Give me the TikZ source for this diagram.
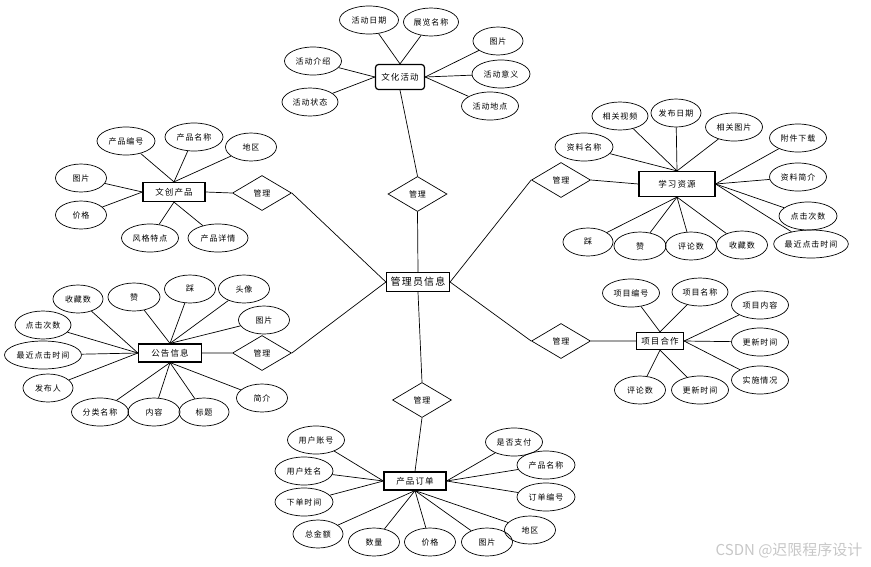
\documentclass[tikz,border=0pt]{standalone}
\usepackage{fontspec}
\setmainfont{Noto Sans CJK SC}[LetterSpace=12]
\newfontfamily\wmfont{Noto Sans CJK SC}
\usetikzlibrary{shapes.geometric}
\tikzset{
  ent/.style={draw,line width=1.2pt,inner sep=0pt,font=\fontsize{8.5}{10}\selectfont},
  attr/.style={draw,ellipse,line width=0.7pt,minimum height=28pt,inner sep=0pt,font=\fontsize{8}{10}\selectfont},
  rel/.style={draw,diamond,line width=0.7pt,aspect=1.7,minimum width=59pt,minimum height=35pt,inner sep=0pt,font=\fontsize{8}{10}\selectfont},
  lnk/.style={line width=0.7pt},
}

\begin{document}
\begin{tikzpicture}[x=1pt,y=-1pt]
\useasboundingbox (0,0) rectangle (871,566);
% entities
\node[ent,minimum width=63pt,minimum height=19pt,font=\fontsize{10}{12}\selectfont] (gly) at (418,282) {管理员信息};
\node[ent,rounded corners=3pt,minimum width=49pt,minimum height=25pt] (whhd) at (400,77) {文化活动};
\node[ent,minimum width=76pt,minimum height=25pt] (xxzy) at (677,184) {学习资源};
\node[ent,minimum width=62pt,minimum height=19pt] (wccp) at (174,192) {文创产品};
\node[ent,minimum width=63pt,minimum height=18pt] (ggxx) at (170,353) {公告信息};
\node[ent,minimum width=47pt,minimum height=17pt] (xmhz) at (660,341) {项目合作};
\node[ent,minimum width=62pt,minimum height=18pt] (cpdd) at (415,481) {产品订单};
% relations
\node[rel] (gl1) at (417.5,194) {管理};
\node[rel] (gl2) at (561,180) {管理};
\node[rel] (gl3) at (561,341) {管理};
\node[rel] (gl4) at (422,400) {管理};
\node[rel] (gl5) at (262,193) {管理};
\node[rel] (gl6) at (262,353) {管理};
\draw[lnk] (gly.north) -- (gl1.south) (gl1.north) -- (whhd.south);
\draw[lnk] (gly.east) -- (gl2.west) (gl2.east) -- (xxzy.west);
\draw[lnk] (gly.east) -- (gl3.west) (gl3.east) -- (xmhz.west);
\draw[lnk] (gly.south) -- (gl4.north) (gl4.south) -- (cpdd.north);
\draw[lnk] (gly.west) -- (gl5.east) (gl5.west) -- (wccp.east);
\draw[lnk] (gly.west) -- (gl6.east) (gl6.west) -- (ggxx.east);
% attributes
\foreach \n/\x/\y/\w/\t/\a in {a1/369/20/59/活动日期/north, a2/431/22/55/展览名称/north,
  a3/498/41/50/图片/east, a4/501/74/58/活动意义/east, a5/490/106/57/活动地点/east,
  a6/313/61/57/活动介绍/west, a7/310/102/56/活动状态/west}
  {\node[attr,minimum width=\w pt] (\n) at (\x,\y) {\t}; \draw[lnk] (\n) -- (whhd.\a);}
\foreach \n/\x/\y/\w/\t/\a in {b1/620/116/56/相关视频/north, b2/676/113/50/发布日期/north,
  b3/734/127/57/相关图片/north, b4/584/147/58/资料名称/north, b5/798/138/57/附件下载/east,
  b6/798/177/57/资料简介/east, b7/808/216/58/点击次数/east, b8/811/244/69/最近点击时间/east,
  b9/588/242/50/踩/south, b10/640/246/52/赞/south, b11/691/246/51/评论数/south, b12/742/245/51/收藏数/south}
  {\node[attr,minimum width=\w pt] (\n) at (\x,\y) {\t}; \draw[lnk] (\n) -- (xxzy.\a);}
\foreach \n/\x/\y/\w/\t/\a in {c1/126/141/58/产品编号/north, c2/194/137/58/产品名称/north,
  c3/251/147/51/地区/north, c4/81/178/51/图片/west, c5/81/215/51/价格/west,
  c6/150/238/57/风格特点/south, c7/218/238/60/产品详情/south}
  {\node[attr,minimum width=\w pt] (\n) at (\x,\y) {\t}; \draw[lnk] (\n) -- (wccp.\a);}
\foreach \n/\x/\y/\w/\t/\a in {d1/78/299/50/收藏数/west, d2/134/297/52/赞/north,
  d3/190/289/51/踩/north, d4/244/289/51/头像/north, d5/264/320/51/图片/north,
  d6/43/325/56/点击次数/west, d7/43/355/77/最近点击时间/west, d8/48/388/50/发布人/west,
  d9/100/412/57/分类名称/south, d10/154/412/52/内容/south, d11/204/412/50/标题/south, d12/262/398/51/简介/south}
  {\node[attr,minimum width=\w pt] (\n) at (\x,\y) {\t}; \draw[lnk] (\n) -- (ggxx.\a);}
\foreach \n/\x/\y/\w/\t/\a in {e1/631/293/57/项目编号/north, e2/700/292/56/项目名称/north,
  e3/760/305/57/项目内容/east, e4/760/342/57/更新时间/east, e5/760/380/57/实施情况/east,
  e6/640/390/51/评论数/south, e7/700/390/57/更新时间/south}
  {\node[attr,minimum width=\w pt] (\n) at (\x,\y) {\t}; \draw[lnk] (\n) -- (xmhz.\a);}
\foreach \n/\x/\y/\w/\t/\a in {f1/316/440/57/用户账号/west, f2/304/471/58/用户姓名/west,
  f3/304/502/58/下单时间/west, f4/318/534/50/总金额/south, f5/374/542/51/数量/south,
  f6/430/542/51/价格/south, f7/487/542/51/图片/south, f8/530/530/51/地区/south,
  f9/514/442/57/是否支付/east, f10/546/465/58/产品名称/east, f11/546/497/58/订单编号/east}
  {\node[attr,minimum width=\w pt] (\n) at (\x,\y) {\t}; \draw[lnk] (\n) -- (cpdd.\a);}
% watermark
\node[font=\wmfont\fontsize{15}{17}\selectfont,text=black!22,anchor=east] (wm) at (866,550) {CSDN @迟限程序设计};
\end{tikzpicture}
\end{document}
